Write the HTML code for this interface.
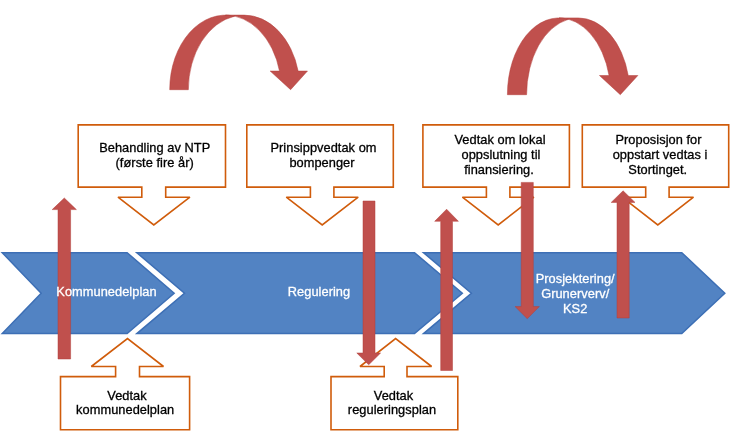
<!DOCTYPE html>
<html><head><meta charset="utf-8"><style>
html,body{margin:0;padding:0;background:#fff;width:730px;height:446px;overflow:hidden}
svg{display:block;will-change:transform}
text{font-family:"Liberation Sans",sans-serif;font-size:12.8px;letter-spacing:0.05px}
</style></head><body>
<svg width="730" height="446" viewBox="0 0 730 446">
<polygon fill="#5283C3" stroke="#3D6FB5" stroke-width="1.5" points="2.26,252.70 127.12,252.70 174.15,293.30 127.12,333.60 2.27,333.60 41.14,293.30"/>
<polygon fill="#5283C3" stroke="#3D6FB5" stroke-width="1.5" points="136.84,252.70 414.52,252.70 462.34,293.30 414.53,333.60 136.85,333.60 184.46,293.30"/>
<polygon fill="#5283C3" stroke="#3D6FB5" stroke-width="1.5" points="423.54,252.70 681.80,252.70 724.81,293.30 681.80,333.60 423.55,333.60 471.36,293.30"/>
<path d="M78.2,124.9 H225.5 V187.1 H165.7 V197.2 H189.9 L153.8,224.9 L118,197.2 H141.8 V187.1 H78.2 Z" fill="#fff" stroke="#D05C0B" stroke-width="1.6" stroke-linejoin="miter" stroke-miterlimit="2"/>
<path d="M246.8,124.9 H393.3 V187.1 H333.9 V197.2 H358.2 L322.2,224.9 L286.3,197.2 H310.4 V187.1 H246.8 Z" fill="#fff" stroke="#D05C0B" stroke-width="1.6" stroke-linejoin="miter" stroke-miterlimit="2"/>
<path d="M422.9,124.9 H569.4 V187.1 H509.9 V197.2 H533.9 L498.2,224.9 L462.4,197.2 H486.4 V187.1 H422.9 Z" fill="#fff" stroke="#D05C0B" stroke-width="1.6" stroke-linejoin="miter" stroke-miterlimit="2"/>
<path d="M582.3,124.9 H728.7 V187.1 H669.1 V197.2 H693.5 L657.8,224.9 L622.1,197.2 H645.7 V187.1 H582.3 Z" fill="#fff" stroke="#D05C0B" stroke-width="1.6" stroke-linejoin="miter" stroke-miterlimit="2"/>
<path d="M60.5,376.6 H115.6 V366.5 H91.3 L127.5,338.6 L163.5,366.5 H139.5 V376.6 H189.6 V429.8 H60.5 Z" fill="#fff" stroke="#D05C0B" stroke-width="1.6" stroke-linejoin="miter" stroke-miterlimit="2"/>
<path d="M331,376.6 H384.2 V366.5 H360 L395.6,338.6 L431.6,366.5 H407 V376.6 H457.8 V429.8 H331 Z" fill="#fff" stroke="#D05C0B" stroke-width="1.6" stroke-linejoin="miter" stroke-miterlimit="2"/>
<path d="M234.81,16.15 A55.79,74.60 0 0 0 188.35,89.70 L169.70,89.70 A55.79,74.60 0 0 1 234.81,16.15 Z" fill="#C0504D" stroke="#B23E3B" stroke-width="0.5"/><path d="M290.60,89.70 L270.18,71.05 L279.50,71.05 A55.79,74.60 0 0 0 225.49,15.10 L244.14,15.10 A55.79,74.60 0 0 1 298.15,71.05 L307.48,71.05 Z" fill="#C0504D" stroke="#B23E3B" stroke-width="0.5"/>
<path d="M568.65,19.24 A51.65,76.80 0 0 0 526.60,94.70 L507.40,94.70 A51.65,76.80 0 0 1 568.65,19.24 Z" fill="#C0504D" stroke="#B23E3B" stroke-width="0.5"/><path d="M620.30,94.70 L599.46,75.50 L609.06,75.50 A51.65,76.80 0 0 0 559.05,17.90 L578.25,17.90 A51.65,76.80 0 0 1 628.26,75.50 L637.86,75.50 Z" fill="#C0504D" stroke="#B23E3B" stroke-width="0.5"/>
<path d="M58,359 V209.6 H52.2 L64.3,198 L76.4,209.6 H70.6 V359 Z" fill="#C0504D" stroke="#B23E3B" stroke-width="0.5"/>
<path d="M363,201 V353 H356.8 L368.7,364.8 L380.6,353 H375 V201 Z" fill="#C0504D" stroke="#B23E3B" stroke-width="0.5"/>
<path d="M521.2,182.4 V306.6 H515.1 L527.25,318.7 L539.3,306.6 H533.3 V182.4 Z" fill="#C0504D" stroke="#B23E3B" stroke-width="0.5"/>
<path d="M617,318 V202.4 H611.2 L623.1,190.8 L635,202.4 H629.2 V318 Z" fill="#C0504D" stroke="#B23E3B" stroke-width="0.5"/>
<path d="M440.7,370.5 V221.3 H434.7 L446.6,209.2 L458.4,221.3 H452.5 V370.5 Z" fill="#C0504D" stroke="#B23E3B" stroke-width="0.5"/>
<text x="154.7" y="151.9" fill="#000" stroke="#000" stroke-width="0.3" text-anchor="middle">Behandling av NTP</text>
<text x="154.7" y="166.5" fill="#000" stroke="#000" stroke-width="0.3" text-anchor="middle">(første fire år)</text>
<text x="323.5" y="151.9" fill="#000" stroke="#000" stroke-width="0.3" text-anchor="middle">Prinsippvedtak om</text>
<text x="322.0" y="166.5" fill="#000" stroke="#000" stroke-width="0.3" text-anchor="middle">bompenger</text>
<text x="500.0" y="144.0" fill="#000" stroke="#000" stroke-width="0.3" text-anchor="middle">Vedtak om lokal</text>
<text x="501.0" y="158.8" fill="#000" stroke="#000" stroke-width="0.3" text-anchor="middle">oppslutning til</text>
<text x="499.0" y="173.6" fill="#000" stroke="#000" stroke-width="0.3" text-anchor="middle">finansiering.</text>
<text x="658.5" y="144.0" fill="#000" stroke="#000" stroke-width="0.3" text-anchor="middle">Proposisjon for</text>
<text x="660.0" y="158.8" fill="#000" stroke="#000" stroke-width="0.3" text-anchor="middle">oppstart vedtas i</text>
<text x="657.8" y="173.6" fill="#000" stroke="#000" stroke-width="0.3" text-anchor="middle">Stortinget.</text>
<text x="127.0" y="399.6" fill="#000" stroke="#000" stroke-width="0.3" text-anchor="middle">Vedtak</text>
<text x="125.2" y="414.1" fill="#000" stroke="#000" stroke-width="0.3" text-anchor="middle">kommunedelplan</text>
<text x="393.5" y="399.6" fill="#000" stroke="#000" stroke-width="0.3" text-anchor="middle">Vedtak</text>
<text x="392.0" y="414.1" fill="#000" stroke="#000" stroke-width="0.3" text-anchor="middle">reguleringsplan</text>
<text x="106.5" y="296.4" fill="#fff" stroke="#fff" stroke-width="0.3" text-anchor="middle">Kommunedelplan</text>
<text x="319.0" y="296.2" fill="#fff" stroke="#fff" stroke-width="0.3" text-anchor="middle">Regulering</text>
<text x="575.2" y="282.8" fill="#fff" stroke="#fff" stroke-width="0.3" text-anchor="middle">Prosjektering/</text>
<text x="575.2" y="297.7" fill="#fff" stroke="#fff" stroke-width="0.3" text-anchor="middle">Grunerverv/</text>
<text x="575.2" y="313.4" fill="#fff" stroke="#fff" stroke-width="0.3" text-anchor="middle">KS2</text>
</svg>
</body></html>
